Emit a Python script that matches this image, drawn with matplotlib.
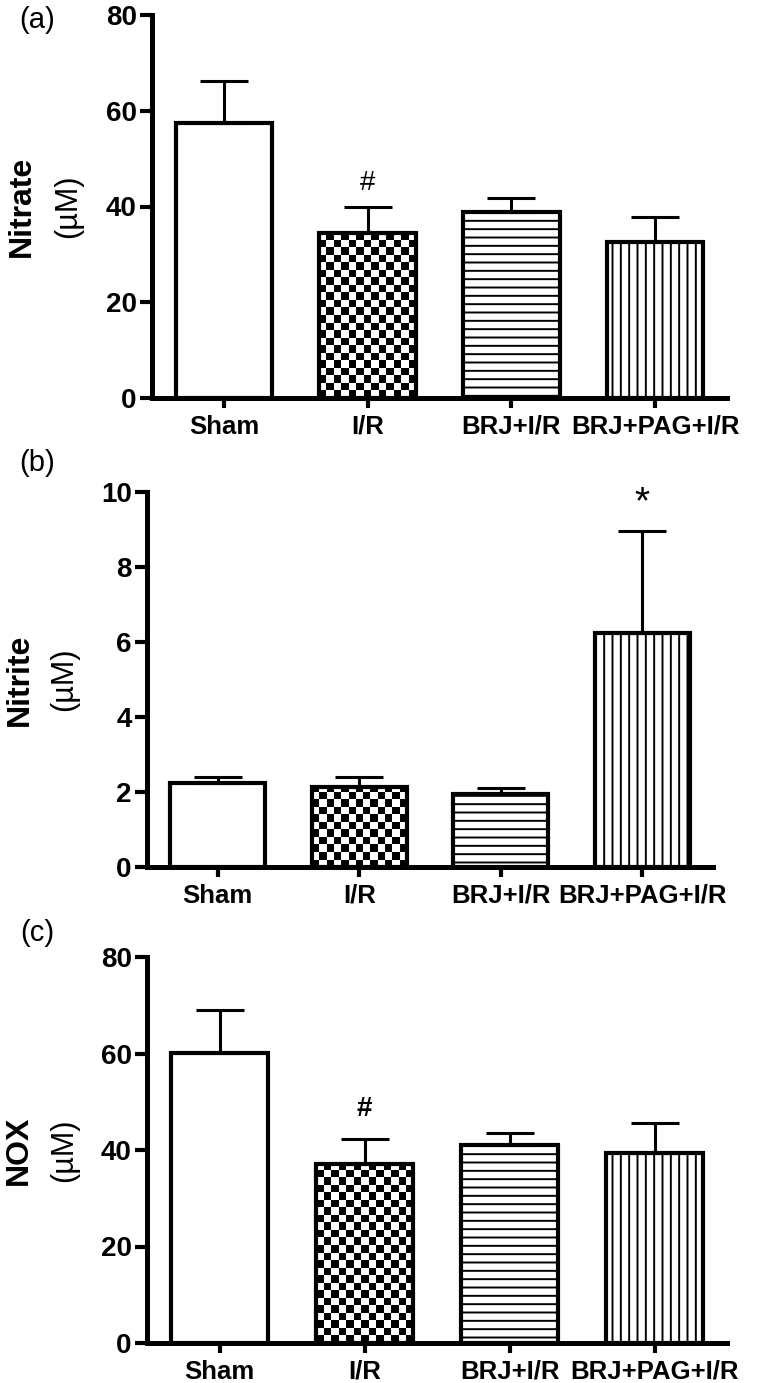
import numpy as np
import matplotlib
matplotlib.use('Agg')
import matplotlib.pyplot as plt

plt.rcParams['font.family'] = ['Liberation Sans', 'DejaVu Sans']
plt.rcParams['hatch.linewidth'] = 1.4

# Daten
groups = ['Sham', 'I/R', 'BRJ+I/R', 'BRJ+PAG+I/R']
nitrate = [57.4, 34.5, 38.9, 32.6]
nitrate_err = [8.8, 5.5, 2.8, 5.3]
nitrite = [2.24, 2.13, 1.95, 6.24]
nitrite_err = [0.17, 0.28, 0.15, 2.72]
nox = [60.1, 37.1, 41.0, 39.4]
nox_err = [8.9, 5.2, 2.5, 6.2]

panels = [
    # letter, name, values, errors, ymax, ystep, mark, mark idx, mark y, mark weight, mark size
    ('(a)', 'Nitrate', nitrate, nitrate_err, 80, 20, '#', 1, 45.0, 'normal', 20),
    ('(b)', 'Nitrite', nitrite, nitrite_err, 10, 2, '*', 3, 9.7, 'normal', 28),
    ('(c)', 'NOX', nox, nox_err, 80, 20, '#', 1, 48.5, 'bold', 20),
]
# Positionen der Achsen in Pixel (links, rechts, oben, unten)
boxes = [(152, 727, 15, 398), (147, 713, 492, 867), (147, 727, 957, 1343)]
ylab_x = [(22, 68), (20, 64), (19, 64)]
letter_y = [20, 463, 933]

W, H = 760, 1383
fig = plt.figure(figsize=(W / 100, H / 100), dpi=100)

hatches = [None, 'checker', '--', '||']
x = np.arange(len(groups))

for (letter, name, vals, errs, ymax, ystep, mark, mi, my, mw, ms), box, yl, ly in zip(panels, boxes, ylab_x, letter_y):
    l, r, t, b = box
    ax = fig.add_axes([l / W, 1 - b / H, (r - l) / W, (b - t) / H])
    bars = ax.bar(x, vals, width=0.67, color='white', edgecolor='black',
                  linewidth=3, zorder=2)
    for bar, h in zip(bars, hatches):
        if h == 'checker':
            bar.set_facecolor('none')
            bx, bw, bh = bar.get_x(), bar.get_width(), bar.get_height()
            # Zellengroesse ca. 7.5 px
            nx = 13
            px_per_unit = (b - t) / ymax
            ny = int(round(bh * px_per_unit / 7.5))
            cell_h = 7.5 / px_per_unit
            grid = (np.add.outer(np.arange(ny), np.arange(nx)) % 2).astype(float)
            im = ax.imshow(grid, cmap='gray', extent=(bx, bx + bw, 0, ny * cell_h),
                           origin='lower', interpolation='nearest', aspect='auto',
                           zorder=1)
            im.set_clip_path(bar)
        elif h is not None:
            bar.set_hatch(h)
    ax.errorbar(x, vals, yerr=[np.zeros(len(vals)), errs], fmt='none',
                ecolor='black', elinewidth=2.2, capsize=17, capthick=2.2, zorder=3)
    ax.text(x[mi], my, mark, ha='center', va='center', fontsize=ms, fontweight=mw)

    ax.set_xlim(-0.5, 3.5)
    ax.set_ylim(0, ymax)
    ax.set_yticks(np.arange(0, ymax + 0.1, ystep))
    ax.set_xticks(x)
    ax.set_xticklabels(groups, fontsize=18.5, fontweight='bold')
    for lab in ax.get_yticklabels():
        lab.set_fontweight('bold')
        lab.set_fontsize(20)
    ax.spines['top'].set_visible(False)
    ax.spines['right'].set_visible(False)
    ax.spines['left'].set_linewidth(3.6)
    ax.spines['bottom'].set_linewidth(3.6)
    ax.tick_params(axis='y', length=9, width=3, pad=2)
    ax.tick_params(axis='x', length=7, width=3, pad=5)

    yc = 1 - (t + b) / 2 / H
    fig.text(yl[0] / W, yc, name, rotation=90, ha='center', va='center',
             fontsize=23, fontweight='bold')
    fig.text(yl[1] / W, yc, '(\u00b5M)', rotation=90, ha='center', va='center',
             fontsize=22)
    fig.text(37 / W, 1 - ly / H, letter, ha='center', va='center', fontsize=21)

plt.savefig('out.png', dpi=100)
plt.close(fig)
